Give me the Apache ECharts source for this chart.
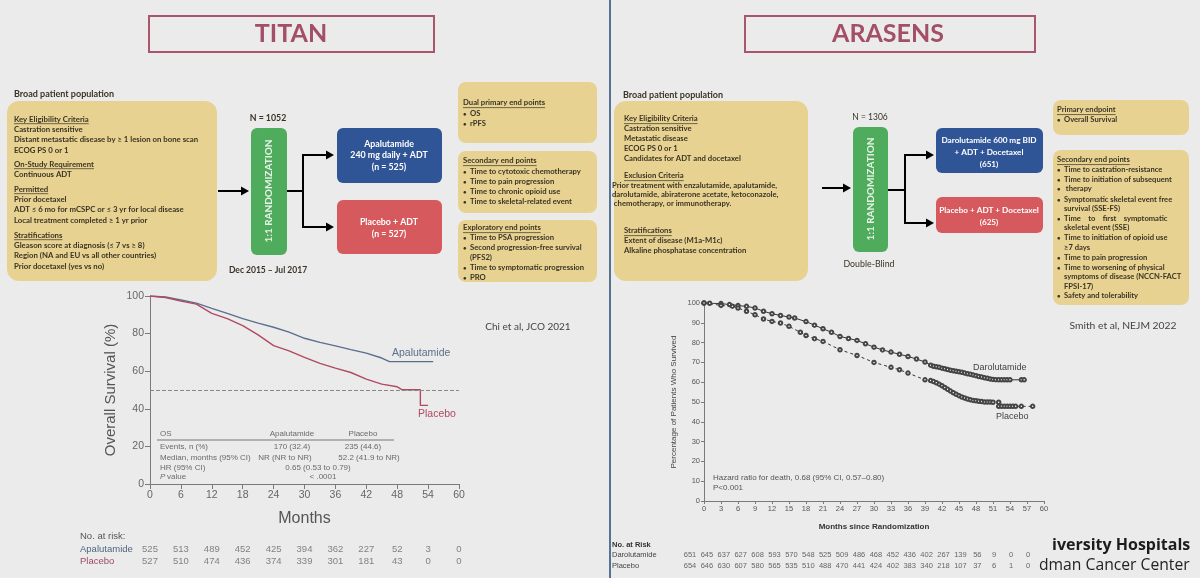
<!DOCTYPE html>
<html>
<head>
<meta charset="utf-8">
<script src="https://cdn.jsdelivr.net/npm/echarts@6/dist/echarts.min.js"></script>
<style>
  html, body { margin: 0; padding: 0; background: #ebebeb; }
  #chart { width: 1200px; height: 578px; }
</style>
</head>
<body>
<div id="chart"></div>
<script>
// TITAN OS
var apaMonths = [0, 3, 6, 9, 12, 15, 18, 21, 24, 27, 30, 33, 36, 39, 42, 45, 46.5, 55];
var apaOS = [100, 99.5, 97.9, 96.2, 93.4, 90.8, 88, 85.6, 83.4, 80.8, 77.5, 75.3, 73.5, 71.5, 69.6, 67, 65.1, 65.1];
var pboMonths = [0, 3, 6, 9, 12, 15, 18, 21, 24, 27, 30, 33, 36, 39, 42, 45, 48, 49, 52.5, 52.5, 54];
var pboOS = [100, 99.2, 97.3, 95.7, 90.8, 88, 84.2, 79.3, 73.6, 70.8, 67.4, 64.2, 61.6, 59.3, 55.8, 53.1, 51.7, 50.1, 50.1, 41.8, 41.8];

// TITAN no. at risk
var titanRiskMonths = [0, 6, 12, 18, 24, 30, 36, 42, 48, 54, 60];
var apaRisk = [525, 513, 489, 452, 425, 394, 362, 227, 52, 3, 0];
var pboRisk = [527, 510, 474, 436, 374, 339, 301, 181, 43, 0, 0];

// ARASENS OS
var daroMonths = [0, 1, 3, 4.5, 6, 7.5, 9, 10.5, 12, 13.5, 15, 16, 18, 19.5, 21, 22.5, 24, 25.5, 27, 28.5, 30, 31.5, 33, 34.5, 36, 37.5, 39,
  40, 40.5, 41, 41.5, 42, 42.5, 43, 43.5, 44, 44.5, 45, 45.5, 46, 46.5, 47, 47.5, 48, 48.5, 49, 49.5, 50, 50.5, 51, 51.5, 52, 52.5, 53, 53.5, 54, 56, 56.5];
var daroOS = [100, 99.9, 99.7, 99.2, 98.7, 98.3, 97.5, 95.8, 94.6, 93.7, 92.9, 92.4, 90.6, 88.8, 87, 85.2, 83.1, 82.1, 81.1, 79.4, 77.7, 76.3, 75.2, 74.1, 73, 71.7, 70.2,
  68.6, 68, 67.8, 67.5, 67.1, 66.8, 66.4, 66, 65.8, 65.5, 65.3, 65, 64.6, 64.3, 64, 63.6, 63.3, 62.9, 62.6, 62.2, 62, 61.6, 61.4, 61.3, 61.2, 61.2, 61.2, 61.2, 61.2, 61.2, 61.2];
var pbo2Months = [0, 3, 5, 6, 7.5, 9, 10.5, 12, 13.5, 15, 17, 18, 19.5, 21, 24, 27, 30, 33, 34.5, 36, 39,
  40, 40.5, 41, 41.5, 42, 42.5, 43, 43.5, 44, 44.5, 45, 45.5, 46, 46.5, 47, 47.5, 48, 48.5, 49, 49.5, 50, 50.5, 51, 52, 52, 52.5, 53, 53.5, 54, 54.5, 55, 56, 58];
var pbo2OS = [100, 98.8, 98.4, 97.5, 95.8, 94.1, 91.9, 90.7, 89.9, 88.2, 85.2, 83.6, 82, 80.6, 76.4, 73.5, 70, 67.5, 66.3, 64.6, 61.2,
  60.8, 60.3, 59.7, 59, 58.2, 57.3, 56.4, 55.5, 54.7, 53.9, 53.2, 52.5, 52, 51.5, 51.1, 50.8, 50.6, 50.4, 50.2, 50, 50, 50, 49.9, 49.9, 47.8, 47.8, 47.8, 47.8, 47.8, 47.8, 47.8, 47.8, 47.8];

// ARASENS no. at risk
var arasensRiskMonths = [0, 3, 6, 9, 12, 15, 18, 21, 24, 27, 30, 33, 36, 39, 42, 45, 48, 51, 54, 57, 60];
var daroRisk = [651, 645, 637, 627, 608, 593, 570, 548, 525, 509, 486, 468, 452, 436, 402, 267, 139, 56, 9, 0, 0];
var pbo2Risk = [654, 646, 630, 607, 580, 565, 535, 510, 488, 470, 441, 424, 402, 383, 340, 218, 107, 37, 6, 1, 0];

// slide text
var titanCriteria = [
  ['Key Eligibility Criteria', 119, 'u'],
  ['Castration sensitive', 129],
  ['Distant metastatic disease by \u2265 1 lesion on bone scan', 139],
  ['ECOG PS 0 or 1', 150],
  ['On-Study Requirement', 164, 'u'],
  ['Continuous ADT', 174],
  ['Permitted', 189, 'u'],
  ['Prior docetaxel', 199],
  ['ADT \u2264 6 mo for mCSPC or \u2264 3 yr for local disease', 209],
  ['Local treatment completed \u2265 1 yr prior', 220],
  ['Stratifications', 235, 'u'],
  ['Gleason score at diagnosis (\u2264 7 vs \u2265 8)', 245],
  ['Region (NA and EU vs all other countries)', 255],
  ['Prior docetaxel (yes vs no)', 266]
];
var titanEndpoints = [
  ['Dual primary end points', 103, 'u'],
  ['OS', 114, 'b'],
  ['rPFS', 124, 'b'],
  ['Secondary end points', 161, 'u'],
  ['Time to cytotoxic chemotherapy', 172, 'b'],
  ['Time to pain progression', 182, 'b'],
  ['Time to chronic opioid use', 192, 'b'],
  ['Time to skeletal-related event', 202, 'b'],
  ['Exploratory end points', 228, 'u'],
  ['Time to PSA progression', 238, 'b'],
  ['Second progression-free survival', 248, 'b'],
  ['(PFS2)', 258, 'c'],
  ['Time to symptomatic progression', 268, 'b'],
  ['PRO', 278, 'b']
];
var arasensCriteria = [
  ['Key Eligibility Criteria', 119, 'u'],
  ['Castration sensitive', 129],
  ['Metastatic disease', 139],
  ['ECOG PS 0 or 1', 149],
  ['Candidates for ADT and docetaxel', 159],
  ['Exclusion Criteria', 176, 'u'],
  ['Prior treatment with enzalutamide, apalutamide,', 186, 'o'],
  ['darolutamide, abiraterone acetate, ketoconazole,', 195, 'o'],
  [' chemotherapy, or immunotherapy.', 204, 'o'],
  ['Stratifications', 231, 'u'],
  ['Extent of disease (M1a-M1c)', 241],
  ['Alkaline phosphatase concentration', 251]
];
var arasensEndpoints = [
  ['Primary endpoint', 110, 'u'],
  ['Overall Survival', 120, 'b'],
  ['Secondary end points', 160, 'u'],
  ['Time to castration-resistance', 170, 'b'],
  ['Time to initiation of subsequent', 180, 'b'],
  [' therapy', 189, 'b'],
  ['Symptomatic skeletal event free', 200, 'b'],
  ['survival (SSE-FS)', 209, 'c'],
  ['Time    to    first    symptomatic', 219, 'b'],
  ['skeletal event (SSE)', 228, 'c'],
  ['Time to initiation of opioid use', 238, 'b'],
  ['\u22657 days', 248, 'c'],
  ['Time to pain progression', 258, 'b'],
  ['Time to worsening of physical', 268, 'b'],
  ['symptoms of disease (NCCN-FACT', 277, 'c'],
  ['FPSI-17)', 287, 'c'],
  ['Safety and tolerability', 296, 'b']
];

var SLIDE = 'Lato, "Open Sans", sans-serif';
var PLOT = '"Liberation Sans Narrow", "Liberation Sans", Arial, sans-serif';
var INK = '#3a3424';
var YELLOW = '#e7d292';

var measureCtx = document.createElement('canvas').getContext('2d');
function textWidth(s, font) {
  measureCtx.font = font;
  return measureCtx.measureText(s).width;
}

var g = [];

function T(x, y, s, size, o) {
  o = o || {};
  var font = (o.weight || 'normal') + ' ' + size + 'px ' + (o.family || SLIDE);
  g.push({
    type: 'text', x: x, y: y, rotation: o.rot || 0, silent: true, z: 20,
    style: {
      text: s, font: font, fill: o.color || INK,
      align: o.align || 'left', verticalAlign: 'middle',
      textAlign: o.align || 'left', textVerticalAlign: 'middle'
    }
  });
  if (o.underline) {
    var w = textWidth(s, font);
    g.push({ type: 'line', silent: true, z: 20, shape: { x1: x, y1: y + size * 0.6, x2: x + w, y2: y + size * 0.6 }, style: { stroke: o.color || INK, lineWidth: 0.7 } });
  }
}
function R(x, y, w, h, fill, r, stroke) {
  g.push({
    type: 'rect', silent: true, z: 5,
    shape: { x: x, y: y, width: w, height: h, r: r || 0 },
    style: { fill: fill, stroke: stroke || null, lineWidth: stroke ? 2 : 0 }
  });
}
function L(x1, y1, x2, y2, color, lw) {
  g.push({ type: 'line', silent: true, z: 6, shape: { x1: x1, y1: y1, x2: x2, y2: y2 }, style: { stroke: color || '#000', lineWidth: lw || 2 } });
}
function arrow(x1, y, x2) {
  L(x1, y, x2 - 6, y, '#000', 2);
  g.push({ type: 'polygon', silent: true, z: 6, shape: { points: [[x2 - 8, y - 4.5], [x2, y], [x2 - 8, y + 4.5]] }, style: { fill: '#000' } });
}
function block(lines, x, size) {
  lines.forEach(function (ln) {
    var kind = ln[2];
    if (kind === 'b') {
      T(x, ln[1], '\u2022', size * 0.8, { weight: 'bold' });
      T(x + 7, ln[1], ln[0], size, { weight: 'bold' });
    } else if (kind === 'c') {
      T(x + 7, ln[1], ln[0], size, { weight: 'bold' });
    } else if (kind === 'o') {
      T(x - 12, ln[1], ln[0], size, { weight: 'bold' });
    } else {
      T(x, ln[1], ln[0], size, { weight: 'bold', underline: kind === 'u' });
    }
  });
}

// ---- slide frame
L(610, 0, 610, 578, '#557391', 2);
R(149, 16, 285, 36, 'none', 0, '#a9566c');
T(291, 34, 'TITAN', 25, { weight: 'bold', color: '#a24f67', align: 'center' });
R(745, 16, 290, 36, 'none', 0, '#a9566c');
T(888, 34, 'ARASENS', 25, { weight: 'bold', color: '#a24f67', align: 'center' });

// ---- TITAN schema
T(14, 94, 'Broad patient population', 9, { weight: 'bold' });
R(7, 101, 210, 180, YELLOW, 12);
block(titanCriteria, 14, 7.8);
arrow(218, 191, 249);
T(268, 118, 'N = 1052', 8.8, { weight: 'bold', align: 'center' });
R(251, 128, 36, 127, '#50ac5d', 6);
T(269, 191, '1:1 RANDOMIZATION', 10, { weight: 'bold', color: '#e8f3e8', align: 'center', rot: Math.PI / 2 });
T(268, 270, 'Dec 2015 \u2013 Jul 2017', 8.5, { weight: 'bold', align: 'center' });
L(287, 191, 303, 191);
L(303, 154, 303, 228);
arrow(302, 155, 334);
arrow(302, 227, 334);
R(337, 128, 105, 55, '#2f5597', 6);
T(389, 144, 'Apalutamide', 8.8, { weight: 'bold', color: '#fff', align: 'center' });
T(389, 155, '240 mg daily + ADT', 8.8, { weight: 'bold', color: '#fff', align: 'center' });
T(389, 167, '(n = 525)', 8.8, { weight: 'bold', color: '#fff', align: 'center' });
R(337, 200, 105, 54, '#d65a5d', 6);
T(389, 222, 'Placebo + ADT', 8.8, { weight: 'bold', color: '#fff', align: 'center' });
T(389, 234, '(n = 527)', 8.8, { weight: 'bold', color: '#fff', align: 'center' });
R(458, 82, 139, 61, YELLOW, 8);
R(458, 151, 139, 62, YELLOW, 8);
R(458, 220, 139, 62, YELLOW, 8);
block(titanEndpoints, 463, 7.7);
T(528, 327, 'Chi et al, JCO 2021', 10, { color: '#444', align: 'center' });

// ---- ARASENS schema
T(623, 95, 'Broad patient population', 9, { weight: 'bold' });
R(614, 101, 194, 180, YELLOW, 12);
block(arasensCriteria, 624, 7.7);
arrow(822, 188, 851);
T(870, 117, 'N = 1306', 8.5, { align: 'center' });
R(853, 127, 35, 125, '#50ac5d', 6);
T(871, 189, '1:1 RANDOMIZATION', 10, { weight: 'bold', color: '#e8f3e8', align: 'center', rot: Math.PI / 2 });
T(869, 264, 'Double-Blind', 8.8, { align: 'center' });
L(888, 190, 905, 190);
L(905, 154, 905, 224);
arrow(904, 155, 934);
arrow(904, 223, 934);
R(936, 128, 107, 45, '#2f5597', 6);
T(989, 140, 'Darolutamide 600 mg BID', 8.2, { weight: 'bold', color: '#fff', align: 'center' });
T(989, 152, '+ ADT + Docetaxel', 8.2, { weight: 'bold', color: '#fff', align: 'center' });
T(989, 164, '(651)', 8.2, { weight: 'bold', color: '#fff', align: 'center' });
R(936, 197, 107, 36, '#d65a5d', 6);
T(989, 210, 'Placebo + ADT + Docetaxel', 8.2, { weight: 'bold', color: '#fff', align: 'center' });
T(989, 222, '(625)', 8.2, { weight: 'bold', color: '#fff', align: 'center' });
R(1053, 100, 136, 35, YELLOW, 8);
R(1053, 150, 136, 155, YELLOW, 8);
block(arasensEndpoints, 1057, 7.6);
T(1123, 326, 'Smith et al, NEJM 2022', 10.3, { color: '#444', align: 'center' });

// ---- TITAN KM annotations
var GREY = '#6a6a6a';
T(392, 353, 'Apalutamide', 10.5, { family: PLOT, color: '#5b6f8c' });
T(418, 414, 'Placebo', 10.5, { family: PLOT, color: '#b04a62' });
T(160, 434, 'OS', 8, { family: PLOT, color: GREY });
T(292, 434, 'Apalutamide', 8, { family: PLOT, color: GREY, align: 'center' });
T(363, 434, 'Placebo', 8, { family: PLOT, color: GREY, align: 'center' });
L(157, 440, 394, 440, '#777', 1);
T(160, 447, 'Events, n (%)', 8, { family: PLOT, color: GREY });
T(292, 447, '170 (32.4)', 8, { family: PLOT, color: GREY, align: 'center' });
T(363, 447, '235 (44.6)', 8, { family: PLOT, color: GREY, align: 'center' });
T(160, 458, 'Median, months (95% CI)', 8, { family: PLOT, color: GREY });
T(285, 458, 'NR (NR to NR)', 8, { family: PLOT, color: GREY, align: 'center' });
T(369, 458, '52.2 (41.9 to NR)', 8, { family: PLOT, color: GREY, align: 'center' });
T(160, 468, 'HR (95% CI)', 8, { family: PLOT, color: GREY });
T(318, 468, '0.65 (0.53 to 0.79)', 8, { family: PLOT, color: GREY, align: 'center' });
T(160, 477, 'P', 8, { family: PLOT, color: GREY, weight: 'italic' });
T(167, 477, 'value', 8, { family: PLOT, color: GREY });
T(323, 477, '< .0001', 8, { family: PLOT, color: GREY, align: 'center' });
T(80, 536, 'No. at risk:', 9.5, { family: PLOT, color: '#555' });
T(80, 549, 'Apalutamide', 9.5, { family: PLOT, color: '#4f6580' });
T(80, 561, 'Placebo', 9.5, { family: PLOT, color: '#9c4a60' });

// ---- ARASENS KM annotations
T(973, 368, 'Darolutamide', 9, { family: PLOT, color: '#444' });
T(996, 417, 'Placebo', 9, { family: PLOT, color: '#444' });
T(713, 478, 'Hazard ratio for death, 0.68 (95% CI, 0.57\u20130.80)', 8, { family: PLOT, color: '#555' });
T(713, 488, 'P<0.001', 8, { family: PLOT, color: '#555' });
T(612, 545, 'No. at Risk', 7.5, { family: PLOT, color: '#333', weight: 'bold' });
T(612, 555, 'Darolutamide', 7.5, { family: PLOT, color: '#444' });
T(612, 566, 'Placebo', 7.5, { family: PLOT, color: '#444' });

// ---- footer
T(1052, 545, 'iversity Hospitals', 16, { weight: 'bold', color: '#1c1c1c', family: '"Open Sans", sans-serif' });
T(1039, 566, 'dman Cancer Center', 15.7, { color: '#222', family: '"Open Sans", sans-serif' });

function pairs(xs, ys) {
  return xs.map(function (x, i) { return [x, ys[i]]; });
}
function riskData(months, a, b) {
  var out = [];
  months.forEach(function (m, i) {
    out.push([m, 0, a[i]]);
    out.push([m, 1, b[i]]);
  });
  return out;
}

var dom = document.getElementById('chart');
var myChart = echarts.init(dom, null, { renderer: 'canvas' });

var axisGrey = '#7a7a7a';
var option = {
  backgroundColor: '#ebebeb',
  animation: false,
  grid: [
    { left: 150, top: 296, width: 309, height: 188 },
    { left: 704, top: 303, width: 340, height: 198 },
    { left: 150, top: 543, width: 309, height: 24 },
    { left: 690, top: 549, width: 338, height: 22 }
  ],
  xAxis: [
    {
      gridIndex: 0, type: 'value', min: 0, max: 60, interval: 6,
      name: 'Months', nameLocation: 'middle', nameGap: 27,
      nameTextStyle: { fontSize: 16, color: '#555', fontFamily: PLOT },
      axisLine: { lineStyle: { color: axisGrey } },
      axisTick: { lineStyle: { color: axisGrey } },
      axisLabel: { fontSize: 10.5, color: '#666', fontFamily: PLOT, margin: 6 },
      splitLine: { show: false }
    },
    {
      gridIndex: 1, type: 'value', min: 0, max: 60, interval: 3,
      name: 'Months since Randomization', nameLocation: 'middle', nameGap: 22,
      nameTextStyle: { fontSize: 8, color: '#333', fontFamily: PLOT, fontWeight: 'bold' },
      axisLine: { lineStyle: { color: axisGrey } },
      axisTick: { length: 3, lineStyle: { color: axisGrey } },
      axisLabel: { fontSize: 7.5, color: '#555', fontFamily: PLOT, margin: 4 },
      splitLine: { show: false }
    },
    { gridIndex: 2, type: 'value', min: 0, max: 60, show: false },
    { gridIndex: 3, type: 'value', min: 0, max: 60, show: false }
  ],
  yAxis: [
    {
      gridIndex: 0, type: 'value', min: 0, max: 100, interval: 20,
      name: 'Overall Survival (%)', nameLocation: 'middle', nameGap: 32,
      nameTextStyle: { fontSize: 15, color: '#555', fontFamily: PLOT },
      axisLine: { show: true, lineStyle: { color: axisGrey } },
      axisTick: { show: true, lineStyle: { color: axisGrey } },
      axisLabel: { fontSize: 10.5, color: '#666', fontFamily: PLOT, margin: 6 },
      splitLine: { show: false }
    },
    {
      gridIndex: 1, type: 'value', min: 0, max: 100, interval: 10,
      name: 'Percentage of Patients Who Survived', nameLocation: 'middle', nameGap: 26,
      nameTextStyle: { fontSize: 8, color: '#444', fontFamily: PLOT },
      axisLine: { show: true, lineStyle: { color: axisGrey } },
      axisTick: { show: true, length: 3, lineStyle: { color: axisGrey } },
      axisLabel: { fontSize: 7.5, color: '#555', fontFamily: PLOT, margin: 4 },
      splitLine: { show: false }
    },
    { gridIndex: 2, type: 'category', data: ['Apalutamide', 'Placebo'], inverse: true, show: false },
    { gridIndex: 3, type: 'category', data: ['Darolutamide', 'Placebo'], inverse: true, show: false }
  ],
  series: [
    {
      name: 'Apalutamide', type: 'line', xAxisIndex: 0, yAxisIndex: 0,
      data: pairs(apaMonths, apaOS), showSymbol: false,
      lineStyle: { color: '#5b6f8c', width: 1.4 }
    },
    {
      name: 'Placebo', type: 'line', xAxisIndex: 0, yAxisIndex: 0,
      data: pairs(pboMonths, pboOS), showSymbol: false,
      lineStyle: { color: '#b04a62', width: 1.4 },
      markLine: {
        silent: true, symbol: 'none', label: { show: false },
        lineStyle: { color: '#888', type: 'dashed', width: 1 },
        data: [{ yAxis: 50 }]
      }
    },
    {
      name: 'Darolutamide', type: 'line', xAxisIndex: 1, yAxisIndex: 1,
      data: pairs(daroMonths, daroOS), symbol: 'emptyCircle', symbolSize: 3.5,
      itemStyle: { color: '#444', borderWidth: 1 },
      lineStyle: { color: '#333', width: 1 }
    },
    {
      name: 'Placebo ARASENS', type: 'line', xAxisIndex: 1, yAxisIndex: 1,
      data: pairs(pbo2Months, pbo2OS), symbol: 'emptyCircle', symbolSize: 3.5,
      itemStyle: { color: '#444', borderWidth: 1 },
      lineStyle: { color: '#333', width: 1, type: [3, 3] }
    },
    {
      type: 'scatter', xAxisIndex: 2, yAxisIndex: 2, symbolSize: 1,
      itemStyle: { color: 'transparent' },
      data: riskData(titanRiskMonths, apaRisk, pboRisk),
      label: {
        show: true, position: 'inside', fontSize: 9.5, fontFamily: PLOT,
        formatter: function (p) { return p.value[2]; },
        color: '#666'
      },
      encode: { x: 0, y: 1 }
    },
    {
      type: 'scatter', xAxisIndex: 3, yAxisIndex: 3, symbolSize: 1,
      itemStyle: { color: 'transparent' },
      data: riskData(arasensRiskMonths, daroRisk, pbo2Risk),
      label: {
        show: true, position: 'inside', fontSize: 7.5, fontFamily: PLOT,
        formatter: function (p) { return p.value[2]; },
        color: '#444'
      },
      encode: { x: 0, y: 1 }
    }
  ],
  graphic: { elements: g }
};

myChart.setOption(option);
window.onresize = function () {
  myChart.resize();
};
</script>
</body>
</html>
